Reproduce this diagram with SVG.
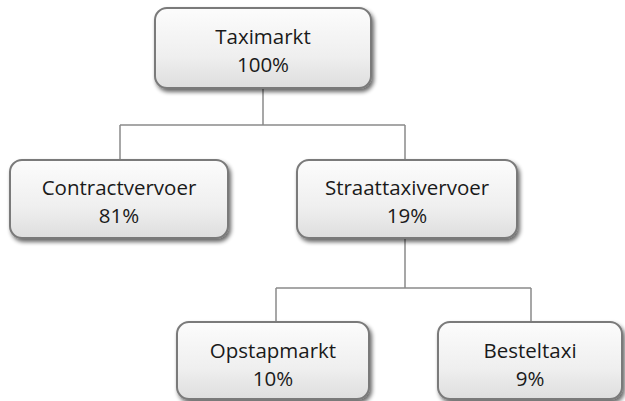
<svg xmlns="http://www.w3.org/2000/svg" width="625" height="401" viewBox="0 0 625 401">
<defs>
<linearGradient id="g" x1="0" y1="0" x2="0" y2="1">
<stop offset="0" stop-color="#fcfcfc"/>
<stop offset="0.6" stop-color="#efefef"/>
<stop offset="1" stop-color="#dedede"/>
</linearGradient>
<filter id="sh" x="-10%" y="-10%" width="125%" height="140%">
<feGaussianBlur in="SourceAlpha" stdDeviation="2"/>
<feOffset dx="2" dy="3" result="b"/>
<feComponentTransfer><feFuncA type="linear" slope="0.6"/></feComponentTransfer>
<feMerge><feMergeNode/><feMergeNode in="SourceGraphic"/></feMerge>
</filter>
</defs>
<style>
.box{fill:url(#g);stroke:#7a7a7a;stroke-width:2;filter:url(#sh)}
.t{font-family:"Open Sans","Noto Sans",sans-serif;font-size:20.5px;fill:#1a1a1a;text-anchor:middle}
.c{fill:none;stroke:#8a8a8a;stroke-width:1.5}
</style>
<rect width="625" height="401" fill="#ffffff"/>
<g id="connectors">
<path class="c" d="M263 88 V125 M120 125 H405 M120 125 V160 M405 125 V160"/>
<path class="c" d="M405 238 V288 M276 288 H531 M276 288 V322 M531 288 V322"/>
</g>
<g id="taximarkt">
<rect class="box" x="155" y="8" width="216" height="80" rx="12"/>
<text class="t" x="263" y="44">Taximarkt</text>
<text class="t" x="263" y="72">100%</text>
</g>
<g id="contractvervoer">
<rect class="box" x="10" y="160" width="218" height="78" rx="12"/>
<text class="t" x="119" y="195">Contractvervoer</text>
<text class="t" x="119" y="223">81%</text>
</g>
<g id="straattaxivervoer">
<rect class="box" x="297" y="160" width="220" height="78" rx="12"/>
<text class="t" x="407" y="195">Straattaxivervoer</text>
<text class="t" x="407" y="223">19%</text>
</g>
<g id="opstapmarkt">
<rect class="box" x="177" y="322" width="192" height="77" rx="12"/>
<text class="t" x="273" y="358">Opstapmarkt</text>
<text class="t" x="273" y="386">10%</text>
</g>
<g id="besteltaxi">
<rect class="box" x="438" y="322" width="184" height="77" rx="12"/>
<text class="t" x="530" y="358">Besteltaxi</text>
<text class="t" x="530" y="386">9%</text>
</g>
</svg>
